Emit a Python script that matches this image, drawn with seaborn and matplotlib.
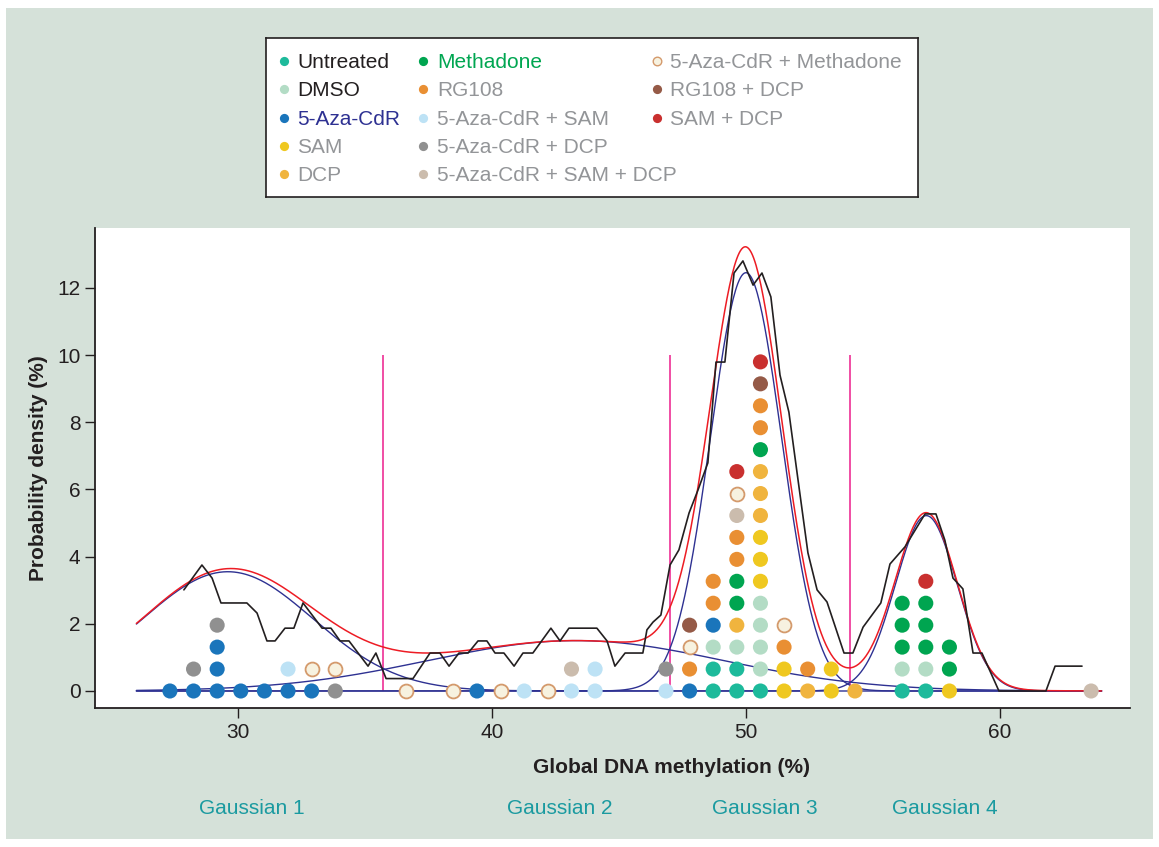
import numpy as np
import pandas as pd
import matplotlib
matplotlib.use("Agg")
import matplotlib.pyplot as plt
import matplotlib.transforms as mtransforms
from matplotlib.patches import Rectangle
import seaborn as sns

# ---------------- data ----------------
groups = ["Untreated", "DMSO", "5-Aza-CdR", "SAM", "DCP", "Methadone", "RG108",
          "5-Aza-CdR + SAM", "5-Aza-CdR + DCP", "5-Aza-CdR + SAM + DCP",
          "5-Aza-CdR + Methadone", "RG108 + DCP", "SAM + DCP"]

untreated = [48.71, 48.71, 49.64, 49.64, 50.57, 56.15, 57.08]
dmso = [48.71, 49.64, 50.57, 50.57, 50.57, 50.57, 56.15, 57.08]
aza = [27.32, 28.25, 29.18, 29.18, 29.18, 30.11, 31.04, 31.97, 32.90, 39.41, 47.78, 48.71]
sam = [50.57, 50.57, 50.57, 51.50, 51.50, 53.36, 53.36, 58.01]
dcp = [49.64, 50.57, 50.57, 50.57, 52.43, 54.29]
methadone = [49.64, 49.64, 50.57, 56.15, 56.15, 56.15, 57.08, 57.08, 57.08, 58.01, 58.01]
rg108 = [47.78, 48.71, 48.71, 49.64, 49.64, 50.57, 50.57, 51.50, 52.43]
aza_sam = [31.97, 41.27, 43.13, 44.06, 44.06, 46.85]
aza_dcp = [28.25, 29.18, 33.83, 46.85]
aza_sam_dcp = [43.13, 49.64, 63.59]
aza_methadone = [32.90, 33.83, 36.62, 38.48, 40.34, 42.20, 47.78, 49.64, 51.50]
rg108_dcp = [47.78, 50.57]
sam_dcp = [49.64, 50.57, 57.08]

group_values = [untreated, dmso, aza, sam, dcp, methadone, rg108, aza_sam, aza_dcp,
                aza_sam_dcp, aza_methadone, rg108_dcp, sam_dcp]

colors = ["#1dba9b", "#b3dcc5", "#1a75bb", "#efc820", "#f0b43e", "#00a550", "#e98f33",
          "#bde2f5", "#909090", "#cbbcad", "#f7f2e0", "#955a47", "#c9302f"]
text_colors = ["#231f20", "#231f20", "#2e3192", "#939598", "#939598", "#00a651", "#939598",
               "#939598", "#939598", "#939598", "#939598", "#939598", "#939598"]

# empirical density (black line)
emp_x = [27.87, 28.58, 28.98, 29.33, 30.35, 30.75, 31.14, 31.46, 31.85, 32.20, 32.56, 33.31,
         33.66, 34.02, 34.37, 35.12, 35.43, 35.83, 36.89, 37.56, 37.95, 38.31, 38.70, 39.06,
         39.45, 39.80, 40.12, 40.47, 40.87, 41.22, 41.61, 42.32, 42.68, 43.03, 44.13, 44.53,
         44.84, 45.24, 45.94, 46.10, 46.34, 46.65, 47.01, 47.36, 47.76, 48.11, 48.50, 48.82,
         49.17, 49.53, 49.88, 50.28, 50.63, 50.98, 51.34, 51.69, 52.05, 52.44, 52.80, 53.19,
         53.86, 54.21, 54.61, 55.31, 55.67, 56.26, 57.05, 57.48, 57.83, 58.15, 58.54, 58.94,
         59.29, 59.96, 61.81, 62.17, 63.23]
emp_y = [3.01, 3.75, 3.36, 2.62, 2.62, 2.32, 1.49, 1.49, 1.87, 1.87, 2.62, 1.87,
         1.87, 1.49, 1.49, 0.74, 1.13, 0.37, 0.37, 1.13, 1.13, 0.74, 1.13, 1.13,
         1.49, 1.49, 1.13, 1.13, 0.74, 1.13, 1.13, 1.87, 1.49, 1.87, 1.87, 1.49,
         0.74, 1.13, 1.13, 1.82, 2.05, 2.26, 3.75, 4.20, 5.30, 5.98, 6.79, 9.79,
         9.79, 12.44, 12.80, 12.08, 12.44, 11.73, 9.40, 8.30, 6.28, 4.11, 3.01, 2.65,
         1.13, 1.13, 1.90, 2.62, 3.78, 4.29, 5.27, 5.27, 4.49, 3.36, 3.04, 1.13,
         1.13, 0.00, 0.00, 0.74, 0.74]

# Gaussian mixture components
gauss_mean = [29.6, 43.3, 50.0, 57.1]
gauss_sd = [3.35, 5.8, 1.4, 1.22]
gauss_peak = [3.55, 1.5, 12.45, 5.22]
gauss_names = ["Gaussian 1", "Gaussian 2", "Gaussian 3", "Gaussian 4"]
gauss_label_x = [30.55, 42.68, 50.75, 57.83]
boundaries = [35.71, 47.01, 54.09]

# ---------------- build tables ----------------
rows = []
for g, vals in zip(groups, group_values):
    for v in vals:
        rows.append((g, v))
dots = pd.DataFrame(rows, columns=["group", "meth"])
stack_step = 0.653
dots["level"] = dots.groupby("meth").cumcount()
dots["density"] = dots["level"] * stack_step

xs = np.linspace(26, 64, 800)
comp = pd.DataFrame({"x": xs})
for i, (m, s, p) in enumerate(zip(gauss_mean, gauss_sd, gauss_peak)):
    comp[f"g{i}"] = p * np.exp(-(xs - m) ** 2 / (2 * s ** 2))
comp["total"] = comp[[f"g{i}" for i in range(4)]].sum(axis=1)
emp = pd.DataFrame({"x": emp_x, "y": emp_y})

# ---------------- style ----------------
sns.set_style("ticks")
plt.rcParams["font.family"] = ["Liberation Sans", "DejaVu Sans"]

W, H = 1159, 847
fig = plt.figure(figsize=(W / 100, H / 100), dpi=100)
fig.patch.set_facecolor("white")
fig.add_artist(Rectangle((6 / W, 1 - 839 / H), (1153 - 6) / W, (839 - 8) / H,
                         transform=fig.transFigure, facecolor="#d5e1d9",
                         edgecolor="none", zorder=-10))

ax = fig.add_axes([95 / W, 1 - 708 / H, 1035 / W, 480 / H])
ax.set_facecolor("white")

# curves
for i in range(4):
    sns.lineplot(data=comp, x="x", y=f"g{i}", ax=ax, color="#2e3192", lw=1.0, zorder=2)
sns.lineplot(data=comp, x="x", y="total", ax=ax, color="#ed1c24", lw=1.1, zorder=3)
sns.lineplot(data=emp, x="x", y="y", ax=ax, color="#231f20", lw=1.2, zorder=4,
             estimator=None, sort=False)

ax.vlines(boundaries, 0, 10, color="#ec1c8c", lw=1.1, zorder=1)

# dots
pal = dict(zip(groups, colors))
filled = dots[dots["group"] != "5-Aza-CdR + Methadone"]
openc = dots[dots["group"] == "5-Aza-CdR + Methadone"]
sns.scatterplot(data=filled, x="meth", y="density", hue="group", palette=pal,
                s=118, linewidth=0, legend=False, ax=ax, zorder=5)
sns.scatterplot(data=openc, x="meth", y="density", color=pal["5-Aza-CdR + Methadone"],
                s=100, edgecolor="#d49a6c", linewidth=1.3, legend=False, ax=ax, zorder=5)

ax.set_xlim(24.37, 65.12)
ax.set_ylim(-0.506, 13.78)
ax.set_xticks([30, 40, 50, 60])
ax.set_yticks([0, 2, 4, 6, 8, 10, 12])
for sp in ["top", "right"]:
    ax.spines[sp].set_visible(False)
for sp in ["left", "bottom"]:
    ax.spines[sp].set_color("#231f20")
    ax.spines[sp].set_linewidth(1.3)
ax.tick_params(axis="both", direction="out", length=7.5, width=1.0, color="#231f20",
               labelsize=15, labelcolor="#231f20", pad=3)

ax.set_xlabel("Global DNA methylation (%)", fontsize=15, fontweight="bold", color="#231f20")
ax.set_ylabel("Probability density (%)", fontsize=15, fontweight="bold", color="#231f20")
ax.xaxis.label.set_va("center")
ax.yaxis.label.set_va("center")
ax.xaxis.set_label_coords(0.557, -0.123)
ax.yaxis.set_label_coords(-0.055, 0.5)

trans = mtransforms.blended_transform_factory(ax.transData, ax.transAxes)
for name, gx in zip(gauss_names, gauss_label_x):
    ax.text(gx, -0.21, name, transform=trans, ha="center", va="center",
            fontsize=15, color="#1a9aa0", clip_on=False)

# ---------------- legend box ----------------
lax = fig.add_axes([266 / W, 1 - 197 / H, 652 / W, 159 / H])
lax.set_xlim(266, 918)
lax.set_ylim(197, 38)
lax.set_xticks([])
lax.set_yticks([])
lax.set_facecolor("white")
for sp in lax.spines.values():
    sp.set_color("#231f20")
    sp.set_linewidth(1.2)

col_marker_x = [284, 423, 657]
col_text_x = [297, 437, 670]
row_y = [61, 89, 118, 146, 174]
layout = [(0, 0), (0, 1), (0, 2), (0, 3), (0, 4),
          (1, 0), (1, 1), (1, 2), (1, 3), (1, 4),
          (2, 0), (2, 1), (2, 2)]
for g, c, tc, (ci, ri) in zip(groups, colors, text_colors, layout):
    if g == "5-Aza-CdR + Methadone":
        lax.scatter(col_marker_x[ci], row_y[ri], s=38, facecolor=c, edgecolor="#d49a6c",
                    linewidth=1.0)
    else:
        lax.scatter(col_marker_x[ci], row_y[ri], s=44, color=c, linewidth=0)
    lax.text(col_text_x[ci], row_y[ri] + 1.5, g, va="center", ha="left", fontsize=15,
             color=tc)

fig.savefig("out.png", dpi=100, facecolor=fig.get_facecolor())
